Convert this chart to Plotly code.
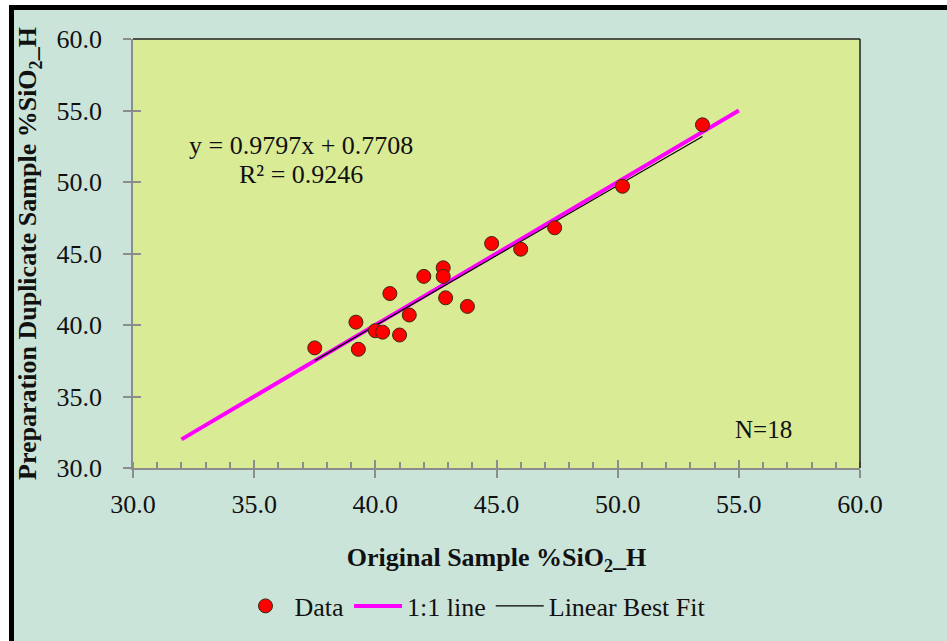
import plotly.graph_objects as go

# ---- data ----
orig_sio2 = [37.5, 39.2, 39.3, 40.0, 40.3, 41.0, 40.6, 41.4, 42.0,
             42.8, 42.8, 42.9, 43.8, 44.8, 46.0, 47.4, 50.2, 53.5]
dup_sio2 = [38.4, 40.2, 38.3, 39.6, 39.5, 39.3, 42.2, 40.7, 43.4,
            44.0, 43.4, 41.9, 41.3, 45.7, 45.3, 46.8, 49.7, 54.0]
one_to_one_x = [32.0, 55.0]
fit_slope = 0.9797
fit_intercept = 0.7708
fit_r2 = 0.9246
fit_x = [min(orig_sio2), max(orig_sio2)]
fit_y = [fit_slope * v + fit_intercept for v in fit_x]
n_samples = len(orig_sio2)

W, H = 947, 641
L, R, T, B = 133, 860, 39, 468   # plot area pixel box

FONT = "Liberation Serif, Times New Roman, serif"
PAPER = "#CBE4DA"
PLOT = "#DAEB96"
AXIS = "#8C8C8C"
TXT = "#111111"


def fx(px):
    return (px - L) / (R - L)


def fy(py):
    return (B - py) / (B - T)


fig = go.Figure()

fig.add_trace(go.Scatter(
    x=one_to_one_x, y=one_to_one_x, mode="lines", name="1:1 line",
    line=dict(color="#FF00FF", width=4), legendrank=2, hoverinfo="skip"))
fig.add_trace(go.Scatter(
    x=fit_x, y=fit_y, mode="lines", name="Linear Best Fit",
    line=dict(color="#000000", width=1.2), legendrank=3, hoverinfo="skip"))
fig.add_trace(go.Scatter(
    x=orig_sio2, y=dup_sio2, mode="markers", name="Data",
    marker=dict(color="#FF0000", size=14, line=dict(color="#3A2A10", width=1)),
    legendrank=1))
# helper trace so that the overlay axes (inner halves of the crossing ticks) are drawn
fig.add_trace(go.Scatter(
    x=one_to_one_x, y=one_to_one_x, xaxis="x2", yaxis="y2", mode="lines",
    line=dict(width=0), opacity=0, showlegend=False, hoverinfo="skip"))

tickfont = dict(family=FONT, size=26, color=TXT)

fig.update_layout(
    width=W, height=H,
    margin=dict(l=L, r=W - R, t=T, b=H - B),
    paper_bgcolor=PAPER, plot_bgcolor=PLOT,
    font=dict(family=FONT, size=26, color=TXT),
    showlegend=True,
    legend=dict(orientation="h", x=fx(474), xanchor="center", y=fy(606),
                yanchor="middle", bgcolor="rgba(0,0,0,0)",
                font=dict(family=FONT, size=26, color=TXT),
                itemwidth=48, tracegroupgap=0),
    xaxis=dict(range=[30, 60], dtick=5, tickformat=".1f", showgrid=False,
               zeroline=False, showline=True, linecolor=AXIS, linewidth=1.5,
               ticks="outside", ticklen=8, tickcolor=AXIS, tickwidth=1.5,
               minor=dict(dtick=1, ticks="inside", ticklen=6, tickcolor=AXIS,
                          tickwidth=1.5, showgrid=False),
               tickfont=tickfont, ticklabelstandoff=4,
               title=dict(text="<b>Original Sample %SiO<sub>2</sub>_H</b>",
                          font=dict(family=FONT, size=26, color=TXT),
                          standoff=30)),
    yaxis=dict(range=[30, 60], dtick=5, tickformat=".1f", showgrid=False,
               zeroline=False, showline=True, linecolor=AXIS, linewidth=1.5,
               ticks="outside", ticklen=8, tickcolor=AXIS, tickwidth=1.5,
               tickfont=tickfont, ticklabelstandoff=16,
               title=dict(text="<b>Preparation Duplicate Sample %SiO<sub>2</sub>_H</b>",
                          font=dict(family=FONT, size=26, color=TXT),
                          standoff=12)),
    xaxis2=dict(range=[30, 60], dtick=5, overlaying="x", anchor="y", side="bottom",
                showgrid=False, zeroline=False, showline=False,
                ticks="inside", ticklen=8, tickcolor=AXIS, tickwidth=1.5,
                showticklabels=False),
    yaxis2=dict(range=[30, 60], dtick=5, overlaying="y", anchor="x", side="left",
                showgrid=False, zeroline=False, showline=False,
                ticks="inside", ticklen=8, tickcolor=AXIS, tickwidth=1.5,
                showticklabels=False),
)

# equation / R² and sample count
fig.add_annotation(
    x=fx(301), y=fy(145), xref="paper", yref="paper", showarrow=False,
    xanchor="center", yanchor="middle",
    text=f"y = {fit_slope:.4f}x + {fit_intercept:.4f}",
    font=dict(family=FONT, size=26, color=TXT))
fig.add_annotation(
    x=fx(301), y=fy(174), xref="paper", yref="paper", showarrow=False,
    xanchor="center", yanchor="middle",
    text=f"R\u00b2 = {fit_r2:.4f}",
    font=dict(family=FONT, size=26, color=TXT))
fig.add_annotation(
    x=fx(763), y=fy(429), xref="paper", yref="paper", showarrow=False,
    xanchor="center", yanchor="middle",
    text=f"N={n_samples}",
    font=dict(family=FONT, size=25, color=TXT))

shapes = [
    # dark top and right edges of the plot area
    dict(type="line", xref="paper", yref="paper", x0=0, x1=1, y0=1, y1=1,
         line=dict(color="#222", width=1.5)),
    dict(type="line", xref="paper", yref="paper", x0=1, x1=1, y0=0, y1=1,
         line=dict(color="#222", width=1.5)),
    # white page margin at top and left
    dict(type="rect", xref="paper", yref="paper", x0=fx(0), x1=fx(W),
         y0=fy(5), y1=fy(0), fillcolor="white", line=dict(width=0), layer="above"),
    dict(type="rect", xref="paper", yref="paper", x0=fx(0), x1=fx(9),
         y0=fy(H), y1=fy(0), fillcolor="white", line=dict(width=0), layer="above"),
    # thick black frame edges
    dict(type="rect", xref="paper", yref="paper", x0=fx(9), x1=fx(W),
         y0=fy(10), y1=fy(5), fillcolor="black", line=dict(width=0), layer="above"),
    dict(type="rect", xref="paper", yref="paper", x0=fx(9), x1=fx(14),
         y0=fy(H), y1=fy(5), fillcolor="black", line=dict(width=0), layer="above"),
]
fig.update_layout(shapes=shapes)

fig.write_html("out.html", config={"displayModeBar": False},
               post_script="document.body.style.margin='0';")
